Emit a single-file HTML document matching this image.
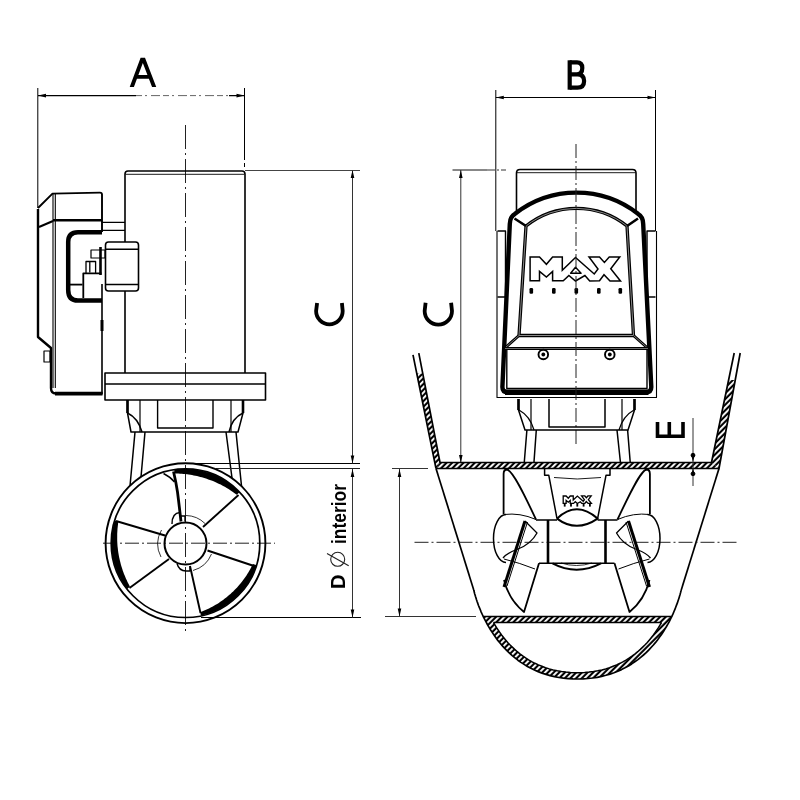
<!DOCTYPE html>
<html><head><meta charset="utf-8"><title>Thruster drawing</title>
<style>
html,body{margin:0;padding:0;background:#fff;}
body{width:800px;height:800px;overflow:hidden;font-family:"Liberation Sans",sans-serif;}
svg{display:block;filter:grayscale(1);}
</style></head>
<body>
<svg width="800" height="800" viewBox="0 0 800 800">
<defs>
<pattern id="h" patternUnits="userSpaceOnUse" width="4.2" height="4.2" patternTransform="rotate(40)">
<rect width="4.2" height="4.2" fill="#fff"/>
<rect x="0" y="0" width="1.7" height="4.2" fill="#000"/>
</pattern>
</defs>
<rect width="800" height="800" fill="#fff"/>

<!-- ============ LEFT VIEW ============ -->
<g fill="none" stroke="#000" stroke-linecap="butt" stroke-linejoin="round">
<!-- center lines -->
<path d="M185.5,125 V633" stroke="#222" stroke-width="1" stroke-dasharray="24,4,2,4"/>
<path d="M103,543.2 H275" stroke="#222" stroke-width="1" stroke-dasharray="14,3,2,3"/>

<!-- dim A -->
<path d="M37.8,88 V208" stroke-width="1"/>
<path d="M244.5,88 V160 M244.5,163 V167" stroke-width="1"/>
<path d="M38,95.6 H136 M229,95.6 H244.5" stroke-width="1.1"/>
<path d="M136,95.6 H229" stroke="#666" stroke-width="1" stroke-dasharray="6,3,2,4,9,3"/>
<path d="M38,95.6 l8,-1.8 v3.6 z M244.5,95.6 l-8,-1.8 v3.6 z" fill="#000" stroke="none"/>
<path d="M129.7,86.9 L140.6,57.8 H145 L156.25,86.9 H152.05 L148.9,78.75 H136.95 L133.9,86.9 Z M138.36,75 L142.83,63.06 L147.45,75 Z" fill="#000" fill-rule="evenodd" stroke="none"/>

<!-- motor -->
<path d="M125,373 V174 Q125,171 128,171 H242 Q245,171 245,174 V373" stroke-width="1.6"/>
<path d="M125.5,174.3 H244.5" stroke-width="0.9"/>
<!-- flange -->
<rect x="105" y="373" width="160.5" height="27" stroke-width="1.6"/>
<path d="M105,384 H265.5" stroke-width="1.4"/>
<!-- below flange -->
<path d="M127.5,400 V413 L131,432 H238 L243,413 V400" stroke-width="1.5"/>
<path d="M127.5,413 Q138,418 142,432 M243,413 Q232,418 229,432" stroke-width="1.5"/>
<path d="M127.5,400 V413 M243,400 V413" stroke-width="2.6"/>
<path d="M140,400 V432 M231,400 V432" stroke-width="1.2"/>
<path d="M157.6,400 V428 H213 V400" stroke-width="1.4"/>
<!-- legs -->
<path d="M135,432 L130,486 M145,432 L141,477 M226,432 L232,478 M236,432 L241.5,486" stroke-width="1.5"/>

<!-- ext lines C/D -->
<path d="M245,170.5 H360" stroke="#444" stroke-width="1"/>
<path d="M190,463.5 H360" stroke-width="1"/>
<path d="M216,468.5 H360" stroke="#222" stroke-width="1"/>
<path d="M201,617.5 H361" stroke-width="1"/>
<!-- dim C left -->
<path d="M352.5,171 V463.5" stroke="#333" stroke-width="1"/>
<path d="M352.5,170 l-1.8,8 h3.6 z M352.5,463.5 l-1.8,-8 h3.6 z" fill="#000" stroke="none"/>
<!-- dim D left -->
<path d="M352.5,469 V617.5" stroke="#333" stroke-width="1"/>
<path d="M352.5,469 l-1.8,8 h3.6 z M352.5,617.5 l-1.8,-8 h3.6 z" fill="#000" stroke="none"/>
<!-- letter C (rotated) -->
<path d="M317.1,303 L316.1,311 A13.3,13.3 0 0 0 342.7,311 L341.9,303" stroke-width="3.8"/>

<!-- tunnel ring -->
<circle cx="185.5" cy="543.2" r="79.9" stroke-width="1.9"/>
<circle cx="185.5" cy="543.2" r="74.3" stroke-width="1.7"/>
<!-- blade tips thick arcs -->
<path d="M174.3,469.9 176.1,469.6 177.9,469.4 179.7,469.2 181.6,469.1 183.4,469.0 185.3,469.0 187.1,469.0 188.9,469.1 190.8,469.2 192.6,469.3 194.4,469.5 196.2,469.8 198.0,470.1 199.9,470.4 201.6,470.8 203.4,471.2 205.2,471.7 207.0,472.2 208.7,472.7 210.5,473.3 212.2,474.0 213.9,474.6 215.6,475.4 217.2,476.1 218.9,476.9 220.5,477.8 222.1,478.7 223.7,479.6 225.3,480.6 226.8,481.6 228.3,482.6 229.8,483.7 231.3,484.8 232.7,486.0 234.1,487.1 235.5,488.4 236.8,489.6 238.1,490.9 239.4,492.2 236.8,494.7 235.3,493.7 233.9,492.7 232.5,491.7 231.0,490.7 229.6,489.8 228.1,488.8 226.7,487.9 225.2,487.1 223.7,486.2 222.2,485.4 220.7,484.6 219.2,483.9 217.6,483.2 216.1,482.5 214.6,481.8 213.0,481.1 211.5,480.5 209.9,479.9 208.3,479.4 206.7,478.8 205.1,478.3 203.5,477.8 201.9,477.3 200.3,476.9 198.7,476.5 197.0,476.1 195.4,475.7 193.7,475.4 192.0,475.1 190.4,474.8 188.7,474.5 187.0,474.3 185.3,474.1 183.6,474.0 181.8,473.8 180.1,473.7 178.4,473.6 176.6,473.5 174.8,473.4 Z" fill="#000" stroke="none"/>
<path d="M256.4,565.1 255.8,567.1 255.1,569.0 254.4,570.8 253.6,572.7 252.8,574.6 251.9,576.4 250.9,578.2 250.0,579.9 248.9,581.7 247.9,583.4 246.8,585.1 245.6,586.7 244.4,588.3 243.1,589.9 241.9,591.5 240.5,593.0 239.1,594.5 237.7,595.9 236.3,597.3 234.8,598.7 233.3,600.0 231.7,601.3 230.1,602.5 228.5,603.7 226.8,604.8 225.1,605.9 223.4,607.0 221.6,608.0 219.9,609.0 218.1,609.9 216.2,610.7 214.4,611.5 212.5,612.3 210.6,613.0 208.7,613.7 206.8,614.3 204.9,614.8 202.9,615.3 200.9,615.8 200.2,612.3 202.0,611.5 203.7,610.7 205.5,610.0 207.2,609.2 209.0,608.4 210.7,607.5 212.3,606.7 214.0,605.8 215.6,604.8 217.2,603.9 218.8,602.9 220.3,601.8 221.9,600.8 223.4,599.7 224.8,598.6 226.3,597.5 227.7,596.3 229.1,595.1 230.5,593.9 231.9,592.6 233.2,591.4 234.5,590.1 235.8,588.8 237.1,587.4 238.3,586.0 239.6,584.6 240.7,583.2 241.9,581.7 243.0,580.3 244.1,578.8 245.2,577.2 246.3,575.7 247.3,574.1 248.3,572.5 249.3,570.8 250.2,569.2 251.1,567.5 252.0,565.8 252.9,564.1 Z" fill="#000" stroke="none"/>
<path d="M127.0,588.9 125.9,587.4 124.8,585.9 123.8,584.4 122.8,582.8 121.8,581.3 120.9,579.7 120.0,578.0 119.1,576.4 118.3,574.7 117.6,573.0 116.8,571.3 116.2,569.6 115.5,567.9 114.9,566.1 114.4,564.4 113.9,562.6 113.4,560.8 113.0,559.0 112.6,557.2 112.3,555.4 112.0,553.5 111.8,551.7 111.6,549.9 111.5,548.0 111.4,546.2 111.3,544.3 111.3,542.5 111.3,540.6 111.4,538.8 111.6,536.9 111.7,535.1 112.0,533.3 112.2,531.4 112.6,529.6 112.9,527.8 113.3,526.0 113.8,524.2 114.3,522.4 114.8,520.6 118.2,521.7 118.1,523.5 117.9,525.3 117.7,527.0 117.5,528.8 117.4,530.5 117.3,532.2 117.2,534.0 117.2,535.7 117.2,537.4 117.2,539.1 117.2,540.8 117.3,542.5 117.4,544.2 117.5,545.9 117.7,547.6 117.9,549.3 118.1,551.0 118.3,552.6 118.6,554.3 118.9,556.0 119.2,557.6 119.6,559.3 120.0,560.9 120.4,562.6 120.8,564.2 121.3,565.9 121.8,567.5 122.3,569.1 122.8,570.7 123.4,572.3 124.0,574.0 124.7,575.6 125.3,577.1 126.0,578.7 126.8,580.3 127.5,581.9 128.3,583.5 129.1,585.0 129.9,586.7 Z" fill="#000" stroke="none"/>
<!-- blades -->
<path d="M173.5,471.5 Q176,482 177.5,492 Q179.5,508 181,521.5" stroke-width="2.8"/>
<path d="M163.5,473.5 Q170.5,477 174.5,482" stroke-width="1.4"/>
<path d="M203,527 L238.5,495" stroke-width="1.9"/>
<path d="M207.5,550.5 L254,566" stroke-width="1.9"/>
<path d="M190,566 L200.5,613" stroke-width="1.9"/>
<path d="M169,559 L129.5,588" stroke-width="1.9"/>
<path d="M165,535.5 L116,521" stroke-width="1.9"/>
<!-- hub -->
<circle cx="185.5" cy="543.5" r="21" stroke-width="2"/>
<path d="M186,515.5 A28,28 0 0 1 205,523.5" stroke-width="0.8"/>
<path d="M161,557 A28,28 0 0 1 161.5,530" stroke-width="0.8"/>
<path d="M193,570.5 A28,28 0 0 0 211.5,554" stroke-width="0.8"/>
<path d="M172,524 Q172,513 180,512.5 M181,516 H185 V521.5" stroke-width="1.4"/>
<path d="M177,563.5 Q179,571 186,571 H190 V566" stroke-width="1.4"/>

<!-- control box left -->
<path d="M38,208 L52.5,193.6 L100,192.6 Q102,192.6 102,194.6 V232" stroke-width="1.9"/>
<path d="M38,209 V337 L51,348 V388 Q51,393.5 56,393.5 H102.5" stroke-width="2.4"/>
<path d="M102,284 V394" stroke-width="1.6"/>
<path d="M55,393.6 H102.5" stroke-width="3.6"/>
<path d="M70,284.6 H82.5" stroke-width="1.8"/>
<path d="M53,194 V388 M55.3,194 V388" stroke-width="1.1"/>
<path d="M53,220.3 H102" stroke-width="2.6"/>
<path d="M39,227 L53,221" stroke-width="2"/>
<path d="M102,222.4 H125 M102,230.4 H125" stroke-width="1.2"/>
<path d="M102,232.2 H78 Q68.2,232.2 68.2,242 V290 Q68.2,300.6 78,300.6 H102" stroke-width="4.5"/>
<path d="M44,351 H50 V362 H44 Z" stroke-width="1.2"/>
<path d="M102,320 V331" stroke-width="3"/>
<!-- solenoid -->
<rect x="105.5" y="242" width="33" height="49" rx="3" fill="#fff" stroke-width="1.6"/>
<path d="M105.5,249.3 H138.5 M105.5,284.5 H138.5" stroke-width="1.6"/>
<path d="M91,250 H105 V258 H91 Z" stroke-width="1.2"/>
<path d="M100.5,247 V275" stroke-width="2.6"/>
<path d="M86,273 V261.5 H95.6 V273 M89.8,262 V272.5" stroke-width="1.3"/>
<path d="M83.3,298 V273.3 H101.5" stroke-width="1.8"/>
</g>


<!-- ============ RIGHT VIEW ============ -->
<g fill="none" stroke="#000" stroke-linecap="butt" stroke-linejoin="round">
<!-- dim B -->
<path d="M495.8,90 V231 M655.5,90 V231" stroke-width="1"/>
<path d="M495.8,97.5 H655.5" stroke-width="1.1"/>
<path d="M495.8,97.5 l8,-1.8 v3.6 z M655.5,97.5 l-8,-1.8 v3.6 z" fill="#000" stroke="none"/>
<path d="M567.6,60.3 H571.8 V89.7 H567.6 Z" fill="#000" stroke="none"/><path d="M569.7,62.4 H577 Q582.3,62.4 582.3,68 Q582.3,74.3 576.5,74.3 H569.7 M569.7,74.3 H577.5 Q584.1,74.3 584.1,81 Q584.1,87.6 577.5,87.6 H569.7" stroke-width="4.2"/>
<!-- C dim right -->
<path d="M452.5,170 H487" stroke="#111" stroke-width="1"/><path d="M487,170 H506" stroke="#333" stroke-width="1" stroke-dasharray="8,2,2,2"/>
<path d="M460.8,170 V463" stroke="#333" stroke-width="1"/>
<path d="M460.8,170 l-1.8,8 h3.6 z M460.8,463 l-1.8,-8 h3.6 z" fill="#000" stroke="none"/>
<path d="M425.6,302.8 L424.65,311 A13.675,13.675 0 0 0 452,311 L451.1,302.8" stroke-width="3.8"/>
<!-- motor -->
<path d="M516.5,215 V173 Q516.5,169.5 520,169.5 H632.5 Q636,169.5 636,173 V215" stroke-width="1.6"/>
<path d="M517,172.7 H635.5" stroke-width="0.9"/>
<!-- outer frame + tabs -->
<path d="M497,231 V397.5 H656.5 V231" stroke-width="1.1"/>
<path d="M497.5,231 H505.5 V297 H497.5 M655.5,231 H647 V297 H655.5" stroke-width="1.4"/>
<!-- cover -->
<path d="M509.8,224 Q509.8,216.8 515,213.8 A100,100 0 0 1 638,213.8 Q643.2,216.8 643.2,224 L651.3,387 Q651.3,392.2 646,392.2 H507.6 Q502.4,392.2 502.4,387 Z" fill="#fff" stroke-width="4.4"/>
<path d="M505,392.2 H648.5" stroke-width="5.4"/>
<!-- inner panel -->
<path d="M526,226 A81,81 0 0 1 627,226 L633.5,335.5 H519 Z" stroke-width="3.3"/>
<path d="M526,226 A81,81 0 0 1 627,226 L633.5,335.5 H519 Z" stroke="#999" stroke-width="0.9"/>
<path d="M514.5,218.5 L526,226 M638,218.5 L627,226" stroke-width="2.6"/>
<path d="M519,335.5 L505.5,347.5 M633.5,335.5 L647,347.5" stroke-width="3"/>
<path d="M519,335.5 L505.5,347.5 M633.5,335.5 L647,347.5" stroke="#999" stroke-width="0.8"/>
<path d="M505,348.5 H648" stroke-width="3"/>
<path d="M505,348.5 H648" stroke="#999" stroke-width="0.7"/>
<path d="M506.8,350 V388.5 H647 V350" stroke-width="1.4"/>
<circle cx="543.3" cy="354.5" r="4.8" stroke-width="1.9"/>
<circle cx="609.8" cy="354.5" r="4.8" stroke-width="1.9"/>
<circle cx="543.3" cy="354.5" r="1.9" fill="#000" stroke="none"/>
<circle cx="609.8" cy="354.5" r="1.9" fill="#000" stroke="none"/>
<!-- MAX logo -->
<path d="M530.1,257.1 539.5,257.1 546.4,264.3 552.6,257.1 562.3,257.1 562.3,270.2 575.5,257.5 594.25,274 598,269 589,257 599.5,257 604.4,262.4 609.25,257 619.75,257 610.75,268.75 620.5,281 610,281 604,274.75 599.5,280.75 589.75,281 584.9,275.5 575.5,281 568.9,275.5 563.25,280.8 552.6,280.8 552.6,271.4 546.4,277 539.5,271.4 539.5,280.8 530.1,280.8 Z" stroke-width="1.5" stroke-linejoin="miter"/>
<path d="M575.5,267.3 L581.1,273.3 H570.6 Z" stroke-width="1.4"/>
<g fill="#000" stroke="none">
<rect x="529.5" y="288" width="3.6" height="5.8" rx="1.2"/>
<rect x="552" y="288" width="3.6" height="5.8" rx="1.2"/>
<rect x="574.5" y="288" width="3.6" height="5.8" rx="1.2"/>
<rect x="597" y="288" width="3.6" height="5.8" rx="1.2"/>
<rect x="618.5" y="288" width="3.6" height="5.8" rx="1.2"/>
</g>
<path d="M576,144 V447" stroke="#222" stroke-width="1" stroke-dasharray="14,3,2,3"/>
</g>


<!-- ============ RIGHT VIEW LOWER ============ -->
<defs>
<pattern id="hb" patternUnits="userSpaceOnUse" width="4" height="4" patternTransform="rotate(45)">
<rect width="4" height="4" fill="#000"/>
<rect x="0" y="0" width="1.9" height="4" fill="#fff"/>
</pattern>
</defs>
<g fill="none" stroke="#000" stroke-linecap="butt" stroke-linejoin="round">
<!-- below box -->
<path d="M518.5,399 V410 L525,430 H628 L634.5,410 V399" stroke-width="1.5"/>
<path d="M519,410 Q530,416 534,430 M634,410 Q623,416 619,430" stroke-width="1.3"/>
<path d="M531,399 V430 M622,399 V430" stroke-width="1.2"/>
<path d="M549,399 V427 H605 V399" stroke-width="1.5"/>
<path d="M518.5,399 V410 M634.5,399 V410" stroke-width="2.6"/>
<!-- legs above floor -->
<path d="M526.9,430 L524.3,462 M536.3,430 L534,462 M617,430 L620.4,462 M627.6,430 L630.2,462" stroke-width="1.5"/>

<!-- hull walls hatched -->
<path d="M416.5,373.5 L422.5,373.5 L440,462.5 L436,468.5 Z" fill="url(#hb)" stroke="none"/>
<path d="M436,468.5 L440,462.5 H711.5 L719,468.5 Z" fill="url(#hb)" stroke="none"/>
<path d="M711.5,462.5 L728.6,380 H735.2 L719,468.5 Z" fill="url(#hb)" stroke="none"/>
<path d="M413,354.8 L436,468.5 M418.8,353.1 L440,462.5 H711.5 L734.2,353 M740.2,353 L719,468.5 H436" stroke-width="1.7"/>
<!-- outer hull below floor -->
<path d="M436,468.5 L473.75,590" stroke-width="1.7"/>
<path d="M719,468.5 L681.25,590" stroke-width="1.7"/>
<path d="M483.3,616.5 484.4,618.8 485.6,621.3 487.0,623.9 488.5,626.5 490.1,629.1 491.7,631.8 493.5,634.4 495.4,637.1 497.3,639.7 499.4,642.4 501.6,645.0 503.9,647.5 506.3,650.1 508.8,652.6 511.5,655.0 514.3,657.3 517.1,659.6 520.2,661.8 523.3,663.9 526.6,665.9 530.0,667.8 533.5,669.6 537.2,671.2 541.0,672.8 545.0,674.1 549.1,675.3 553.3,676.4 557.7,677.3 562.3,678.0 567.0,678.5 571.8,678.9 576.9,679.0 581.9,678.9 586.8,678.6 591.6,678.2 596.1,677.5 600.6,676.6 604.9,675.6 609.0,674.4 613.0,673.1 616.9,671.6 620.6,670.0 624.1,668.3 627.6,666.4 630.9,664.4 634.1,662.4 637.1,660.2 640.0,657.9 642.8,655.6 645.5,653.2 648.1,650.7 650.5,648.2 652.8,645.6 655.0,643.0 657.2,640.4 659.1,637.7 661.0,635.1 662.8,632.4 664.5,629.8 666.1,627.1 667.6,624.5 669.0,621.9 670.3,619.4 671.6,616.9 671.7,616.5 Z M493.5,622.5 494.9,624.9 496.4,627.4 498.1,629.9 499.8,632.4 501.6,635.0 503.6,637.5 505.6,639.9 507.7,642.4 509.9,644.8 512.3,647.1 514.7,649.4 517.3,651.7 519.9,653.8 522.7,655.9 525.6,657.9 528.6,659.8 531.7,661.6 535.0,663.3 538.4,664.9 541.9,666.3 545.5,667.7 549.3,668.9 553.2,669.9 557.3,670.8 561.5,671.5 565.9,672.1 570.4,672.5 575.1,672.7 579.9,672.7 584.6,672.5 589.1,672.1 593.5,671.5 597.7,670.8 601.8,669.9 605.7,668.9 609.5,667.7 613.1,666.3 616.6,664.9 620.0,663.3 623.3,661.6 626.4,659.8 629.4,657.9 632.3,655.9 635.1,653.8 637.7,651.7 640.3,649.4 642.7,647.1 645.1,644.8 647.3,642.4 649.4,639.9 651.4,637.5 653.4,635.0 655.2,632.4 656.9,629.9 658.6,627.4 660.1,624.9 661.5,622.5 Z" fill="url(#hb)" fill-rule="evenodd" stroke="none"/>
<path d="M473.8,590.0 473.8,590.2 473.9,590.5 474.0,591.1 474.2,591.8 474.4,592.8 474.7,593.9 475.1,595.1 475.5,596.5 476.0,598.0 476.5,599.7 477.1,601.5 477.8,603.4 478.5,605.5 479.4,607.6 480.3,609.8 481.2,612.1 482.3,614.5 483.4,616.9 484.7,619.4 486.0,621.9 487.4,624.5 488.9,627.1 490.5,629.8 492.2,632.4 494.0,635.1 495.9,637.7 497.8,640.4 500.0,643.0 502.2,645.6 504.5,648.2 506.9,650.7 509.5,653.2 512.2,655.6 515.0,657.9 517.9,660.2 520.9,662.4 524.1,664.4 527.4,666.4 530.9,668.3 534.4,670.0 538.1,671.6 542.0,673.1 546.0,674.4 550.1,675.6 554.4,676.6 558.9,677.5 563.4,678.2 568.2,678.6 573.1,678.9 578.1,679.0 583.2,678.9 588.0,678.5 592.7,678.0 597.3,677.3 601.7,676.4 605.9,675.3 610.0,674.1 614.0,672.8 617.8,671.2 621.5,669.6 625.0,667.8 628.4,665.9 631.7,663.9 634.8,661.8 637.9,659.6 640.7,657.3 643.5,655.0 646.2,652.6 648.7,650.1 651.1,647.5 653.4,645.0 655.6,642.4 657.7,639.7 659.6,637.1 661.5,634.4 663.3,631.8 664.9,629.1 666.5,626.5 668.0,623.9 669.4,621.3 670.6,618.8 671.9,616.3 673.0,613.9 674.0,611.5 675.0,609.2 675.8,607.0 676.6,604.9 677.4,602.9 678.0,601.1 678.6,599.3 679.1,597.7 679.6,596.1 680.0,594.8 680.3,593.6 680.6,592.5 680.8,591.6 681.0,590.9 681.1,590.4 681.2,590.1 681.2,590.0" stroke-width="1.7"/>
<path d="M493.5,622.5 494.9,624.9 496.4,627.4 498.1,629.9 499.8,632.4 501.6,635.0 503.6,637.5 505.6,639.9 507.7,642.4 509.9,644.8 512.3,647.1 514.7,649.4 517.3,651.7 519.9,653.8 522.7,655.9 525.6,657.9 528.6,659.8 531.7,661.6 535.0,663.3 538.4,664.9 541.9,666.3 545.5,667.7 549.3,668.9 553.2,669.9 557.3,670.8 561.5,671.5 565.9,672.1 570.4,672.5 575.1,672.7 579.9,672.7 584.6,672.5 589.1,672.1 593.5,671.5 597.7,670.8 601.8,669.9 605.7,668.9 609.5,667.7 613.1,666.3 616.6,664.9 620.0,663.3 623.3,661.6 626.4,659.8 629.4,657.9 632.3,655.9 635.1,653.8 637.7,651.7 640.3,649.4 642.7,647.1 645.1,644.8 647.3,642.4 649.4,639.9 651.4,637.5 653.4,635.0 655.2,632.4 656.9,629.9 658.6,627.4 660.1,624.9 661.5,622.5" stroke-width="1.5"/>
<path d="M483.3,616.5 H671.7 M493.5,622.5 H661.5" stroke-width="1.6"/>

<!-- D dim right -->
<path d="M392,468.5 H428 M385,616.5 H476" stroke="#333" stroke-width="1"/>
<path d="M399.5,469 V616.5" stroke="#333" stroke-width="1"/>
<path d="M399.5,469 l-1.8,8 h3.6 z M399.5,616.5 l-1.8,-8 h3.6 z" fill="#000" stroke="none"/>
<!-- horizontal center line -->
<path d="M414.5,542.3 H738" stroke="#222" stroke-width="1" stroke-dasharray="14,3,2,3"/>

<!-- E dim -->
<path d="M693,418 V486" stroke="#333" stroke-width="1"/>
<path d="M693,462 l-1.8,-7 h3.6 z M693,468 l-1.8,7 h3.6 z" fill="#000" stroke="none"/><circle cx="693" cy="455.2" r="1.9" fill="#000"/><circle cx="693" cy="473.8" r="1.9" fill="#000"/>
<path d="M657.5,422 V436.3 H683 V422 M669.3,422 V436.3" stroke-width="3.6" stroke-linejoin="miter"/>

<!-- gear leg -->
<path d="M544.6,468.5 V475.3 H548.8 L557,518.6 M610,468.5 V475.3 H606 L597.6,518.6" stroke-width="1.5"/>
<path d="M554,477.5 Q577,480.5 601,477.5" stroke-width="0.9"/>
<path d="M557,518.6 Q576.5,500 597.6,518.6 Q576.5,533 557,518.6" stroke-width="2"/>
<path d="M552.5,563.3 Q576.5,576 601,563.3" stroke-width="2"/>
<path d="M561,563 Q576.5,568 592,563" stroke-width="0.8"/>
<!-- hub body -->
<path d="M536,520 H557 M597.6,520 H617.5 M539,563.3 H614.5" stroke-width="1.4"/>
<path d="M548,520 V563.3 M605.5,520 V563.3" stroke-width="2.6"/>
<!-- MAX POWER small -->
<path transform="translate(397.81,415.78) scale(0.312)" d="M530.1,257.1 539.5,257.1 546.4,264.3 552.6,257.1 562.3,257.1 562.3,270.2 575.5,257.5 594.25,274 598,269 589,257 599.5,257 604.4,262.4 609.25,257 619.75,257 610.75,268.75 620.5,281 610,281 604,274.75 599.5,280.75 589.75,281 584.9,275.5 575.5,281 568.9,275.5 563.25,280.8 552.6,280.8 552.6,271.4 546.4,277 539.5,271.4 539.5,280.8 530.1,280.8 Z" stroke-width="4.2" stroke-linejoin="miter"/>
<g fill="#000" stroke="none"><rect x="563.8" y="503.6" width="1.8" height="3" /><rect x="570.1" y="503.6" width="1.8" height="3" /><rect x="576.4" y="503.6" width="1.8" height="3" /><rect x="582.7" y="503.6" width="1.8" height="3" /><rect x="589.0" y="503.6" width="1.8" height="3" /></g>

<!-- left prop -->
<g id="prop">
<path d="M506,514.5 A12.5,24 0 0 0 506,562.5" stroke-width="1.5"/>
<path d="M503.6,514 V474 Q503.6,469.5 507,469.5 C514,471 529,505 536,519.5" stroke-width="1.8"/>
<path d="M504,514.5 Q520,512.5 536,519.5" stroke-width="1"/>
<path d="M504,559 Q520,563 535,569" stroke-width="1"/>
<path d="M539,563.3 L524,612 Q509,600 504,580" stroke-width="1.8"/>
<path d="M525,521 L504,587" stroke-width="3"/>
<path d="M527.5,522 L507,586" stroke-width="1"/>
<path d="M525,521 L537,533 Q531,544 518,549 Q507,553 503,558" stroke-width="1.3"/>
</g>
<use href="#prop" transform="translate(1153.5,0) scale(-1,1)"/>
</g>

<!-- D text -->
<g font-family="Liberation Sans" font-weight="bold" fill="#000">
<text transform="translate(345.4,589) rotate(-90)" font-size="20.3">D</text>
<text transform="translate(345.8,544) rotate(-90)" font-size="19.3" textLength="60" lengthAdjust="spacingAndGlyphs">interior</text>
</g>
<circle cx="337.7" cy="559.3" r="7" fill="none" stroke="#222" stroke-width="1.1"/>
<path d="M327,553.4 L348.7,565.8" stroke="#222" stroke-width="1.1"/>
</svg>
</body></html>
